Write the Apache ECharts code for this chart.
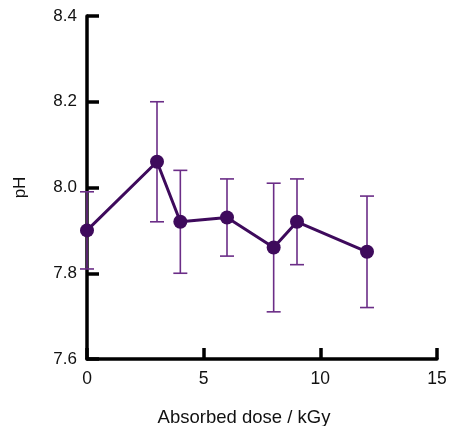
<!DOCTYPE html>
<html><head><meta charset="utf-8">
<script src="https://cdn.jsdelivr.net/npm/echarts@6/dist/echarts.min.js"></script>
<style>html,body{margin:0;padding:0;background:#fff}#c{width:449px;height:426px}</style>
</head><body><div id="c"></div>
<script>
const doses = [0, 3, 4, 6, 8, 9, 12];
const phValues = [7.90, 8.06, 7.92, 7.93, 7.86, 7.92, 7.85];
const phErrors = [0.09, 0.14, 0.12, 0.09, 0.15, 0.10, 0.13];
const xTicks = [0, 5, 10, 15];
const yTicks = [7.6, 7.8, 8.0, 8.2, 8.4];

const lineData = doses.map((d, i) => [d, phValues[i]]);
const errData = doses.map((d, i) => [d, phValues[i] - phErrors[i], phValues[i] + phErrors[i]]);

const chart = echarts.init(document.getElementById('c'));
const font = 'Liberation Sans, Arial, sans-serif';
chart.setOption({
  animation: false,
  grid: {left: 87, right: 12, top: 16, bottom: 67, containLabel: false, outerBoundsMode: 'none'},
  xAxis: {
    type: 'value', min: 0, max: 15, interval: 5,
    name: 'Absorbed dose / kGy', nameLocation: 'middle', nameGap: 49,
    nameTextStyle: {fontFamily: font, fontSize: 18.5, color: '#111', padding: [0, 36, 0, 0]},
    axisLine: {show: true, onZero: false, lineStyle: {color: '#000', width: 3.5}},
    axisTick: {show: true, inside: true, length: 11, lineStyle: {color: '#000', width: 3.5}},
    axisLabel: {fontFamily: font, fontSize: 17.5, color: '#111', margin: 11,
      formatter: v => xTicks.includes(v) ? String(v) : ''},
    splitLine: {show: false}
  },
  yAxis: {
    type: 'value', min: 7.6, max: 8.4, interval: 0.2,
    name: 'pH', nameLocation: 'middle', nameGap: 58, nameRotate: 90,
    nameTextStyle: {fontFamily: font, fontSize: 17, color: '#111'},
    axisLine: {show: true, lineStyle: {color: '#000', width: 3.5}},
    axisTick: {show: true, inside: true, length: 12, lineStyle: {color: '#000', width: 3.5}},
    axisLabel: {fontFamily: font, fontSize: 17, color: '#111', margin: 10,
      formatter: v => { const t = yTicks.find(y => Math.abs(y - v) < 1e-6); return t !== undefined ? t.toFixed(1) : ''; }},
    splitLine: {show: false}
  },
  series: [
    {
      type: 'custom', clip: false, z: 1,
      data: errData,
      renderItem: function (params, api) {
        const x = api.value(0);
        const lo = api.coord([x, api.value(1)]);
        const hi = api.coord([x, api.value(2)]);
        const hw = 7;
        const style = {stroke: '#6b2d87', lineWidth: 1.6};
        return {type: 'group', children: [
          {type: 'line', shape: {x1: lo[0], y1: lo[1], x2: hi[0], y2: hi[1]}, style},
          {type: 'line', shape: {x1: lo[0] - hw, y1: lo[1], x2: lo[0] + hw, y2: lo[1]}, style},
          {type: 'line', shape: {x1: hi[0] - hw, y1: hi[1], x2: hi[0] + hw, y2: hi[1]}, style}
        ]};
      }
    },
    {
      type: 'line', data: lineData, clip: false, z: 3,
      symbol: 'circle', symbolSize: 14,
      lineStyle: {color: '#3e0a5c', width: 3},
      itemStyle: {color: '#3e0a5c'}
    }
  ]
});
</script></body></html>
